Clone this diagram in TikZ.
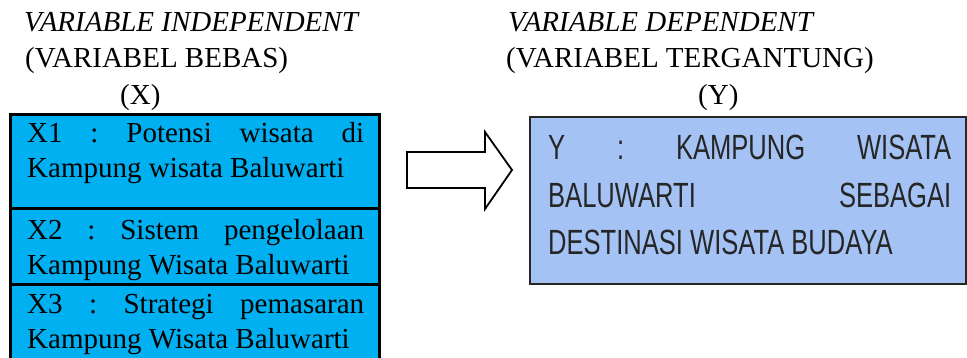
\documentclass[tikz,border=0pt]{standalone}
\usepackage{fontspec}
\setmainfont{Liberation Serif}
\newfontfamily\ysans[FakeStretch=0.73]{Liberation Sans}
\definecolor{xblue}{HTML}{00B0F0}
\definecolor{yblue}{HTML}{A4C2F4}
\tikzset{
  hdr/.style={anchor=base west, inner sep=0pt, font=\fontsize{29}{34}\selectfont},
  xbox/.style={draw=black, line width=3pt, fill=xblue},
  ybox/.style={draw=black!85, line width=2pt, fill=yblue},
  xtxt/.style={anchor=base west, inner sep=0pt, font=\fontsize{29}{35}\selectfont},
  ytxt/.style={anchor=base west, inner sep=0pt, text=black!85, font=\ysans\fontsize{35}{47}\selectfont},
  blockarrow/.style={draw=black, line width=1.8pt, fill=white, line join=miter}
}
\begin{document}
\begin{tikzpicture}[x=1pt,y=-1pt]
\useasboundingbox (0,0) rectangle (967,358);
% headers
\node[hdr] (h1) at (24,32) {\itshape VARIABLE INDEPENDENT};
\node[hdr] (h2) at (25,68) {(VARIABEL BEBAS)};
\node[hdr] (h3) at (120,105) {(X)};
\node[hdr] (h4) at (508,32) {\itshape VARIABLE DEPENDENT};
\node[hdr] (h5) at (506,68) {(VARIABEL TERGANTUNG)};
\node[hdr] (h6) at (698,105) {(Y)};
% left boxes
\path[xbox] (10.5,114.5) rectangle (379.5,209);
\path[xbox] (10.5,209) rectangle (379.5,284.5);
\path[xbox] (10.5,284.5) rectangle (379.5,362);
\node[xtxt] (x1a) at (27,143) {\hbox to 337pt{X1\hfill:\hfill Potensi\hfill wisata\hfill di}};
\node[xtxt] (x1b) at (27,178) {Kampung wisata Baluwarti};
\node[xtxt] (x2a) at (27,240) {\hbox to 337pt{X2\hfill:\hfill Sistem\hfill pengelolaan}};
\node[xtxt] (x2b) at (27,275) {Kampung Wisata Baluwarti};
\node[xtxt] (x3a) at (27,313) {\hbox to 337pt{X3\hfill:\hfill Strategi\hfill pemasaran}};
\node[xtxt] (x3b) at (27,348) {Kampung Wisata Baluwarti};
% block arrow
\path[blockarrow] (407,152) -- (485,152) -- (485,132) -- (512,170) -- (485,209) -- (485,188) -- (407,188) -- cycle;
% right box
\path[ybox] (530,117) rectangle (966,284);
\node[ytxt] (y1) at (548,160) {\hbox to 403pt{Y\hfill:\hfill KAMPUNG\hfill WISATA}};
\node[ytxt] (y2) at (548,208) {\hbox to 403pt{BALUWARTI\hfill SEBAGAI}};
\node[ytxt] (y3) at (548,255) {DESTINASI WISATA BUDAYA};
\end{tikzpicture}
\end{document}
